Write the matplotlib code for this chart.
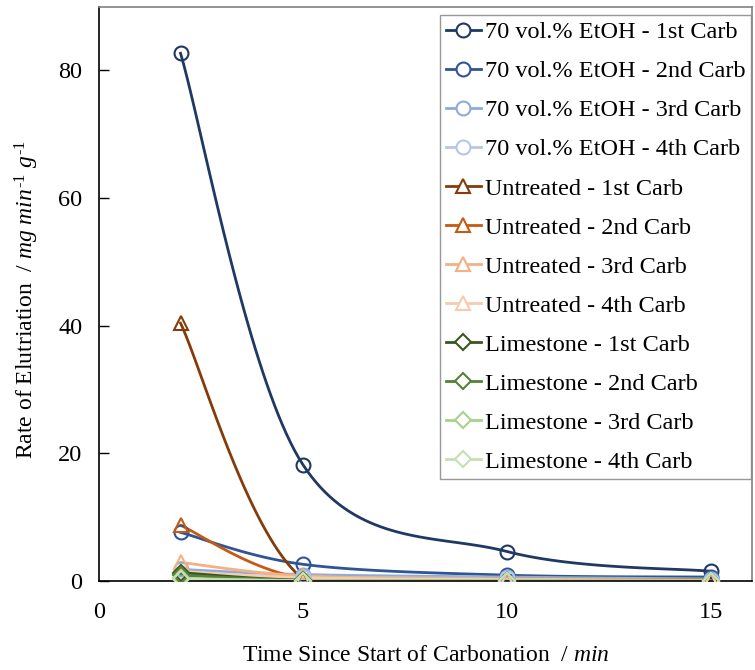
import numpy as np
import matplotlib
matplotlib.use("Agg")
import matplotlib.pyplot as plt

plt.rcParams['font.family'] = ['Liberation Serif', 'DejaVu Serif']
plt.rcParams['mathtext.fontset'] = 'custom'
plt.rcParams['mathtext.rm'] = 'Liberation Serif'
plt.rcParams['mathtext.it'] = 'Liberation Serif:italic'

# ---- data ----
time_min = [2, 5, 10, 15]

etoh_1st = [82.7, 18.2, 4.6, 1.5]
etoh_2nd = [7.6, 2.6, 0.9, 0.6]
etoh_3rd = [1.8, 1.0, 0.6, 0.3]
etoh_4th = [1.2, 0.6, 0.4, 0.2]
untr_1st = [40.4, 0.3, 0.2, 0.1]
untr_2nd = [8.7, 0.4, 0.3, 0.2]
untr_3rd = [2.9, 0.8, 0.3, 0.1]
untr_4th = [1.5, 0.5, 0.2, 0.1]
lime_1st = [1.3, 0.1, 0.05, 0.05]
lime_2nd = [0.9, 0.1, 0.05, 0.05]
lime_3rd = [0.4, 0.05, 0.02, 0.02]
lime_4th = [0.3, 0.02, 0.02, 0.02]

labels = ["70 vol.% EtOH - 1st Carb", "70 vol.% EtOH - 2nd Carb",
          "70 vol.% EtOH - 3rd Carb", "70 vol.% EtOH - 4th Carb",
          "Untreated - 1st Carb", "Untreated - 2nd Carb",
          "Untreated - 3rd Carb", "Untreated - 4th Carb",
          "Limestone - 1st Carb", "Limestone - 2nd Carb",
          "Limestone - 3rd Carb", "Limestone - 4th Carb"]
series = [etoh_1st, etoh_2nd, etoh_3rd, etoh_4th,
          untr_1st, untr_2nd, untr_3rd, untr_4th,
          lime_1st, lime_2nd, lime_3rd, lime_4th]
colors = ["#1F3864", "#2F5597", "#8FAADC", "#B4C7E7",
          "#843C0C", "#C55A11", "#F4B183", "#F8CBAD",
          "#385723", "#548235", "#A9D18E", "#C5E0B4"]
markers = ["o"] * 4 + ["^"] * 4 + ["D"] * 4
msizes = [10] * 4 + [10] * 4 + [8] * 4


def excel_smooth(xs, ys, n=40):
    xs = np.asarray(xs, float)
    ys = np.asarray(ys, float)
    P = np.column_stack([xs, ys])
    out = [P[0]]
    m = len(P)
    t = np.linspace(0, 1, n)[1:, None]
    for i in range(m - 1):
        p0 = P[i - 1] if i > 0 else P[i]
        p1 = P[i]
        p2 = P[i + 1]
        p3 = P[i + 2] if i + 2 < m else P[i + 1]
        c1 = p1 + (p2 - p0) / 6.0
        c2 = p2 - (p3 - p1) / 6.0
        seg = ((1 - t) ** 3) * p1 + 3 * ((1 - t) ** 2) * t * c1 + 3 * (1 - t) * t ** 2 * c2 + t ** 3 * p2
        out.extend(seg)
    out = np.array(out)
    return out[:, 0], out[:, 1]


fig = plt.figure(figsize=(7.55, 6.70), dpi=100)
ax = fig.add_axes([0.131, 0.133, 0.865, 0.857])

handles = []
for ys, lab, c, mk, ms in zip(series, labels, colors, markers, msizes):
    sx, sy = excel_smooth(time_min, ys)
    ax.plot(sx, sy, color=c, lw=2.0, zorder=2)
    ax.plot(time_min, ys, ls='none', marker=mk, ms=ms, mfc='none', mec=c,
            mew=1.5, zorder=3)
    h, = ax.plot([], [], color=c, lw=2.0, marker=mk, ms=ms, mfc='white',
                 mec=c, mew=1.5, label=lab)
    handles.append(h)

ax.set_xlim(0, 16)
ax.set_ylim(0, 90)
ax.set_xticks([0, 5, 10, 15])
ax.set_yticks([0, 20, 40, 60, 80])
ax.tick_params(axis='y', direction='in', length=7, width=1, labelsize=17.5, pad=12)
ax.tick_params(axis='x', direction='in', length=0, labelsize=17.5, pad=15)

for s in ['left', 'bottom']:
    ax.spines[s].set_color('black')
    ax.spines[s].set_linewidth(1.2)
for s in ['top', 'right']:
    ax.spines[s].set_color('#808080')
    ax.spines[s].set_linewidth(1.2)

ax.set_xlabel(r"Time Since Start of Carbonation  / $\mathit{min}$", fontsize=17, labelpad=16)
ax.set_ylabel(r"Rate of Elutriation  / $\mathit{mg}$ $\mathit{min}^{\text{-1}}$ $\mathit{g}^{\text{-1}}$",
              fontsize=17)
ax.yaxis.set_label_coords(-0.088, 0.49)

leg = ax.legend(handles=handles, loc='upper right', bbox_to_anchor=(0.999, 0.985),
                borderaxespad=0, fontsize=17.5, frameon=True, fancybox=False,
                edgecolor='#7f7f7f', handlelength=1.45, handletextpad=0.15,
                labelspacing=0.7, borderpad=0.25)
leg.get_frame().set_linewidth(1.0)

fig.savefig("out.png", dpi=100)
